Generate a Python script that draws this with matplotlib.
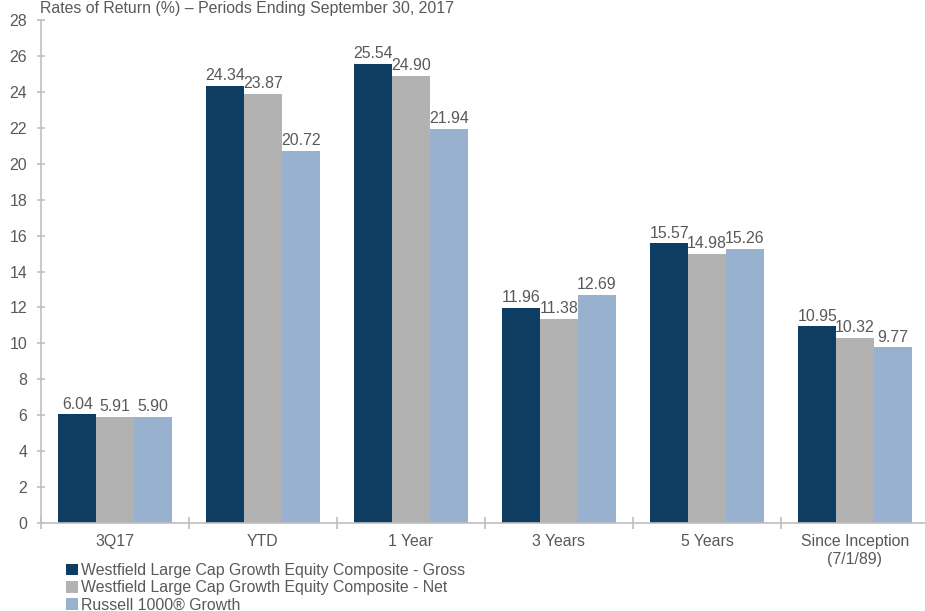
import matplotlib
matplotlib.use("Agg")
import matplotlib.pyplot as plt
import numpy as np

categories = ["3Q17", "YTD", "1 Year", "3 Years", "5 Years", "Since Inception\n(7/1/89)"]
gross = [6.04, 24.34, 25.54, 11.96, 15.57, 10.95]
net = [5.91, 23.87, 24.90, 11.38, 14.98, 10.32]
russell = [5.90, 20.72, 21.94, 12.69, 15.26, 9.77]
series_names = [
    "Westfield Large Cap Growth Equity Composite - Gross",
    "Westfield Large Cap Growth Equity Composite - Net",
    "Russell 1000\u00ae Growth",
]
colors = ["#0F3D61", "#B2B2B2", "#97B1CF"]
title = "Rates of Return (%) \u2013 Periods Ending September 30, 2017"

plt.rcParams["font.family"] = ["Liberation Sans", "DejaVu Sans"]
text_color = "#595959"
axis_color = "#BFBFBF"
fs = 11.4

fig = plt.figure(figsize=(9.25, 6.11), dpi=100)
ax = fig.add_axes([41 / 925, 1 - 523 / 611, 888 / 925, 503 / 611])

x = np.arange(len(categories))
width = 0.255
for i, (vals, name, col) in enumerate(zip([gross, net, russell], series_names, colors)):
    bars = ax.bar(x + (i - 1) * width, vals, width, color=col, label=name, linewidth=0)
    ax.bar_label(bars, labels=[f"{v:.2f}" for v in vals], padding=2,
                 fontsize=fs, color=text_color)

ax.set_xlim(-0.5, len(categories) - 0.5)
ax.set_ylim(0, 28)
ax.set_yticks(np.arange(0, 29, 2))
ax.set_xticks(x)
ax.set_xticklabels(categories)
ax.set_xticks(np.arange(-0.5, len(categories) + 0.5, 1), minor=True)

for side in ["top", "right"]:
    ax.spines[side].set_visible(False)
for side in ["left", "bottom"]:
    ax.spines[side].set_color(axis_color)
    ax.spines[side].set_linewidth(1.2)

ax.tick_params(axis="x", which="major", length=0, pad=8, labelsize=fs, labelcolor=text_color)
ax.tick_params(axis="x", which="minor", direction="inout", length=8, color=axis_color, width=1.2)
ax.tick_params(axis="y", direction="inout", length=6, color=axis_color, width=1.2,
               pad=7, labelsize=fs, labelcolor=text_color)

fig.text(40 / 925, 1 - 13 / 611, title, fontsize=fs, color=text_color, va="baseline", ha="left")

handles, labels = ax.get_legend_handles_labels()
leg = fig.legend(handles, labels, loc="upper left", bbox_to_anchor=(66 / 925, 1 - 563 / 611),
                 frameon=False, fontsize=fs, labelcolor=text_color,
                 handlelength=0.75, handleheight=0.75, handletextpad=0.2,
                 labelspacing=0.15, borderpad=0, borderaxespad=0)

fig.savefig("out.png", dpi=100)
